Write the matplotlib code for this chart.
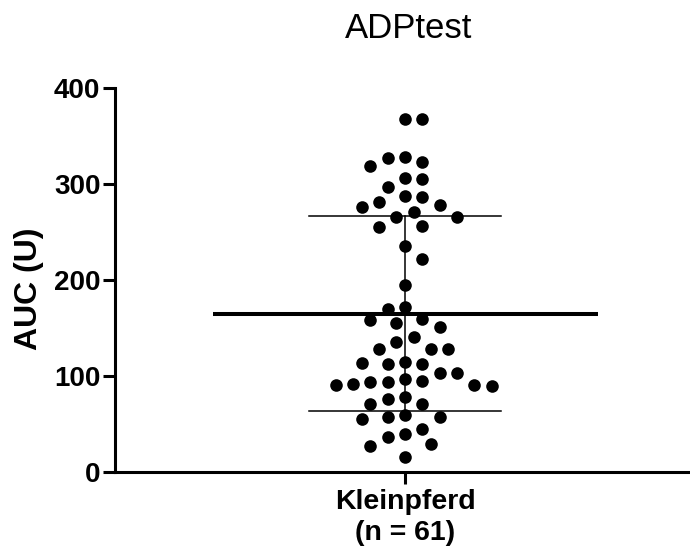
import numpy as np
import matplotlib
matplotlib.use("Agg")
import matplotlib.pyplot as plt

plt.rcParams['font.family'] = ['Liberation Sans', 'DejaVu Sans']

titel = "ADPtest"
gruppe = "Kleinpferd\n(n = 61)"
ylabel = "AUC (U)"
yticks = [0, 100, 200, 300, 400]

# AUC werte
auc = [367.7, 367.7, 327.8, 326.8, 323.0, 318.7, 306.0, 305.5, 296.5, 287.5,
       286.5, 281.0, 278.0, 276.0, 270.8, 266.0, 266.0, 256.0, 255.5, 235.7,
       222.0, 194.8, 171.5, 169.8, 159.0, 158.0, 154.9, 151.4, 140.3, 135.7,
       127.8, 127.8, 127.8, 114.9, 113.2, 112.5, 112.2, 103.5, 103.5, 97.2,
       95.1, 93.75, 93.75, 91.7, 90.3, 90.3, 89.9, 77.8, 75.7, 70.5,
       70.5, 59.0, 57.6, 57.6, 55.2, 44.8, 39.6, 36.1, 29.2, 27.0,
       16.0]

auc = np.array(auc)
mw = auc.mean()
sd = auc.std(ddof=1)

fig = plt.figure(figsize=(6.9, 5.53), dpi=100)
ax = fig.add_axes([115/690, 1-472/553, 575/690, 384/553])
ax.set_xlim(-290, 285)
ax.set_ylim(0, 400)

# beeswarm auf halbem raster (pixel-einheiten)
pxu = 384/400.0
D = 16.6
raster = 8.65
gesetzt = []
xs = np.zeros(len(auc))
seite = 1
for i, v in enumerate(auc):
    yp = v*pxu
    for k in range(0, 20):
        kand = [0.0] if k == 0 else [seite*k*raster, -seite*k*raster]
        gefunden = None
        for c in kand:
            if all((c-xq)**2 + (yp-yq)**2 >= D*D for xq, yq in gesetzt):
                gefunden = c
                break
        if gefunden is not None:
            break
    xs[i] = gefunden
    if gefunden != 0:
        seite = -1 if gefunden > 0 else 1
    gesetzt.append((gefunden, yp))

ax.scatter(xs, auc, s=82, color='black', zorder=3, linewidths=0, clip_on=False)

ax.plot([-192.5, 192.5], [mw, mw], color='black', lw=2.9, zorder=4, solid_capstyle='butt')
ax.plot([-96, 96], [mw+sd, mw+sd], color='black', lw=1.1, zorder=4)
ax.plot([-96, 96], [mw-sd, mw-sd], color='black', lw=1.1, zorder=4)
ax.plot([0, 0], [mw-sd, mw+sd], color='black', lw=1.1, zorder=2)

for s in ['top', 'right']:
    ax.spines[s].set_visible(False)
for s in ['left', 'bottom']:
    ax.spines[s].set_linewidth(2.2)

ax.set_yticks(yticks)
ax.set_yticklabels([str(t) for t in yticks], fontsize=20, fontweight='bold')
ax.set_xticks([0])
ax.set_xticklabels([gruppe], fontsize=20.5, fontweight='bold', linespacing=1.25)
ax.tick_params(axis='both', length=8.5, width=2.2, pad=2)
ax.tick_params(axis='x', pad=4)

ax.set_ylabel(ylabel, fontsize=23, fontweight='bold')
ax.yaxis.set_label_coords(-0.124, 0.478)

fig.text(409/690, 1-28/553, titel, fontsize=25, ha='center', va='center')

fig.savefig("out.png", dpi=100)
